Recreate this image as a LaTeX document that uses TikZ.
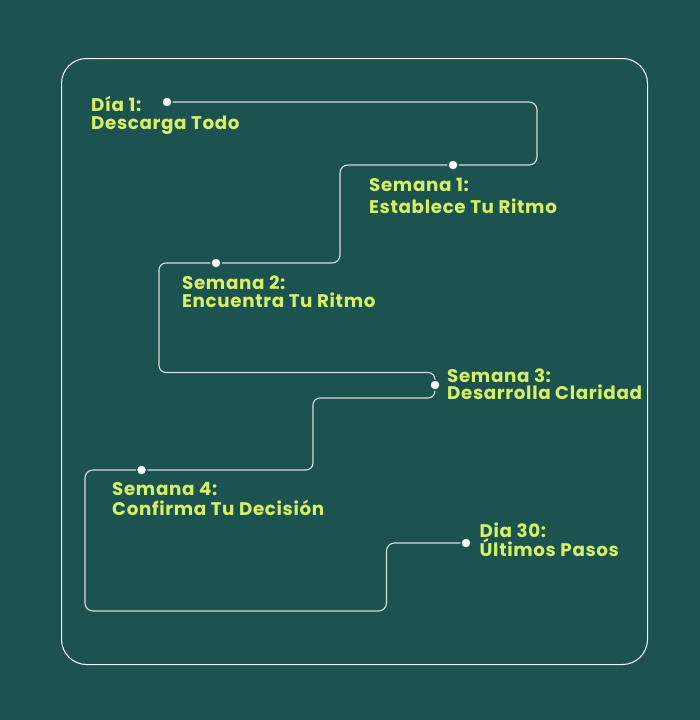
\documentclass[tikz,border=0pt]{standalone}
\usepackage{fontspec}
\setmainfont{Poppins}
\newfontfamily\lblfont{Poppins}[LetterSpace=3.5]
\definecolor{bgteal}{RGB}{28,83,80}
\definecolor{lime}{RGB}{214,241,102}
\definecolor{wirecol}{RGB}{215,225,222}
\begin{document}
\begin{tikzpicture}[x=1pt,y=-1pt,
  lbl/.style={anchor=base west, inner sep=0pt, text=lime, font=\lblfont\bfseries\fontsize{18.3}{20}\selectfont},
  dot/.style={circle, fill=white, draw=none, minimum size=8.5pt, inner sep=0pt, outer sep=1.5pt},
  wire/.style={draw=wirecol, line width=1.1pt, rounded corners=8pt},
  frame/.style={draw=white, line width=1pt, rounded corners=25pt}]
\fill[bgteal] (0,0) rectangle (700,720);
\useasboundingbox (0,0) rectangle (700,720);
\draw[frame] (61.5,58.5) rectangle (647.5,664.5);

\node[dot] (p1) at (167,102) {};
\node[dot] (p2) at (453,165) {};
\node[dot] (p3) at (216,263) {};
\node[dot] (p4) at (435,385) {};
\node[dot] (p5) at (141.5,470) {};
\node[dot] (p6) at (466,543) {};

\draw[wire] (p1) -- (537,102) -- (537,165) -- (p2);
\draw[wire] (p2) -- (340,165) -- (340,263) -- (p3);
\draw[wire, rounded corners=7pt] (p3) -- (159,263) -- (159,372.5) -- (435,372.5) -- (p4);
\draw[wire, rounded corners=7pt] (p4) -- (435,398) -- (313,398) -- (313,470) -- (p5);
\draw[wire] (p5) -- (85,470) -- (85,611) -- (386.5,611) -- (386.5,543) -- (p6);

\node[lbl] (d1a) at (91,111) {Día 1:};
\node[lbl] (d1b) at (91,129.5) {Descarga Todo};
\node[lbl] (s1a) at (369,191.5) {Semana 1:};
\node[lbl] (s1b) at (369,213) {Establece Tu Ritmo};
\node[lbl] (s2a) at (182,289) {Semana 2:};
\node[lbl] (s2b) at (182,307.5) {Encuentra Tu Ritmo};
\node[lbl] (s3a) at (447,382.5) {Semana 3:};
\node[lbl] (s3b) at (447,399.5) {Desarrolla Claridad};
\node[lbl] (s4a) at (112,495.5) {Semana 4:};
\node[lbl] (s4b) at (112,515) {Confirma Tu Decisión};
\node[lbl] (d30a) at (479.5,537.5) {Dia 30:};
\node[lbl] (d30b) at (479.5,556) {Últimos Pasos};
\end{tikzpicture}
\end{document}
